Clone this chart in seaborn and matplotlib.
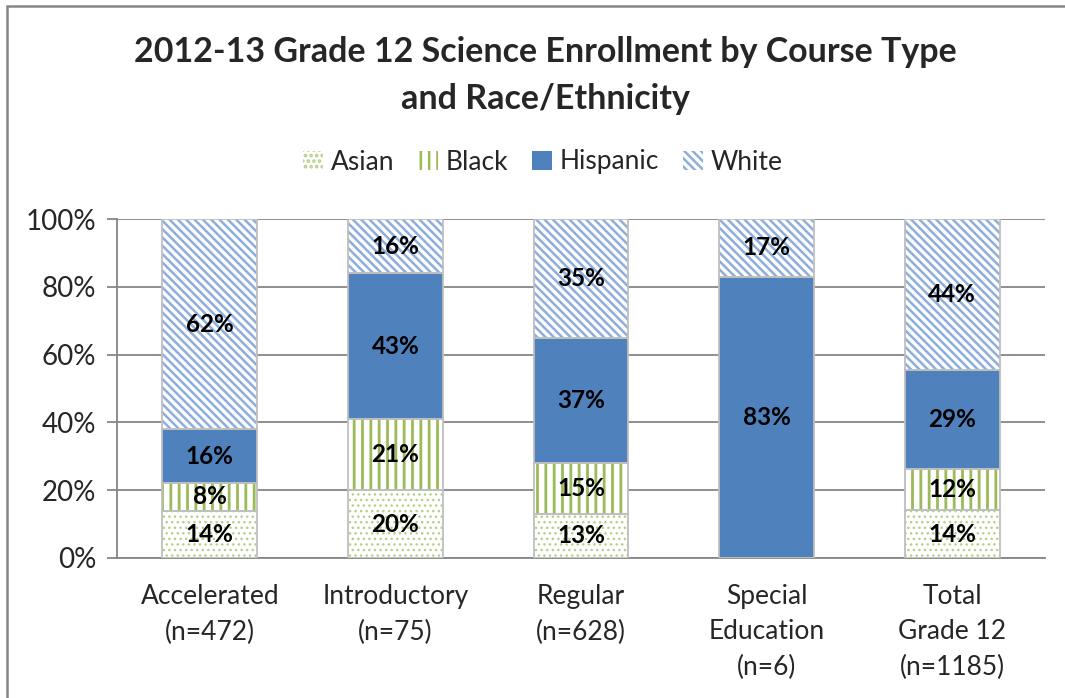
import numpy as np
import pandas as pd
import matplotlib
matplotlib.use("Agg")
import matplotlib.pyplot as plt
from matplotlib.patches import Patch
import seaborn as sns

# data
categories = ["Accelerated\n(n=472)", "Introductory\n(n=75)", "Regular\n(n=628)",
              "Special\nEducation\n(n=6)", "Total\nGrade 12\n(n=1185)"]
groups = ["Asian", "Black", "Hispanic", "White"]
asian = [14, 20, 13, 0, 14]
black = [8, 21, 15, 0, 12]
hispanic = [16, 43, 37, 83, 29]
white = [62, 16, 35, 17, 44]

series = [asian, black, hispanic, white]
totals = np.sum(series, axis=0)

# look of each race/ethnicity layer
face = ["white", "white", "#4F81BD", "white"]
hatch_col = ["#B5CF86", "#9BBB59", "#4F81BD", "#8EAEDB"]
hatches = ["...", "||", None, "\\\\\\\\"]
hatch_lw = [1.0, 2.0, 1.0, 1.8]
edge = "#BFBFBF"

sns.set_style("white")
plt.rcParams["font.family"] = ["Lato", "DejaVu Sans"]

fig = plt.figure(figsize=(10.65, 6.98), dpi=100)
ax = fig.add_axes([117 / 1065, 1 - 558 / 698, 928 / 1065, 339 / 698])

bottom = np.zeros(len(categories))
for i, (name, vals) in enumerate(zip(groups, series)):
    share = np.array(vals) / totals * 100
    df = pd.DataFrame({"cat": categories, "val": share})
    plt.rcParams["hatch.linewidth"] = hatch_lw[i]
    n0 = len(ax.patches)
    sns.barplot(data=df, x="cat", y="val", bottom=bottom, width=0.51,
                color=face[i], saturation=1, ax=ax, zorder=3)
    for p in ax.patches[n0:]:
        p.set_facecolor(face[i])
        p.set_edgecolor(hatch_col[i])
        p.set_linewidth(0)
        if hatches[i]:
            p.set_hatch(hatches[i])
            if hasattr(p, "set_hatch_linewidth"):
                p.set_hatch_linewidth(hatch_lw[i])
    # gray outline on top of the hatch layer
    n1 = len(ax.patches)
    sns.barplot(data=df, x="cat", y="val", bottom=bottom, width=0.51,
                color=edge, saturation=1, fill=False, ax=ax, zorder=4)
    for p in ax.patches[n1:]:
        p.set_fill(False)
        p.set_edgecolor(edge)
        p.set_linewidth(1.3)
    for j, v in enumerate(vals):
        if v > 0:
            ax.text(j, bottom[j] + share[j] / 2, f"{v}%", ha="center", va="center",
                    fontsize=17.5, fontweight="bold", color="black", zorder=5)
    bottom = bottom + share

ax.set_ylim(0, 100)
ax.set_xlim(-0.5, len(categories) - 0.5)
ax.set_yticks(range(0, 101, 20))
ax.set_yticklabels([f"{t}%" for t in range(0, 101, 20)], fontsize=20)
ax.tick_params(axis="x", labelsize=19, length=0, pad=19)
ax.tick_params(axis="y", length=7, width=1.3, color="#868686", left=True, pad=8)
ax.set_xlabel("")
ax.set_ylabel("")
ax.grid(axis="y", color="#868686", linewidth=1.3, zorder=0)
ax.set_axisbelow(True)
for s in ["top", "right"]:
    ax.spines[s].set_visible(False)
for s in ["left", "bottom"]:
    ax.spines[s].set_color("#868686")
    ax.spines[s].set_linewidth(1.3)
for lbl in ax.get_xticklabels():
    lbl.set_linespacing(1.5)

fig.suptitle("2012-13 Grade 12 Science Enrollment by Course Type\nand Race/Ethnicity",
             fontsize=24.5, fontweight="bold", x=0.512, y=0.948, linespacing=1.55)

handles = []
for i, name in enumerate(groups):
    handles.append(Patch(facecolor=face[i], edgecolor=hatch_col[i], hatch=hatches[i],
                         linewidth=0, label=name))
fig.legend(handles=handles, loc="center", bbox_to_anchor=(0.51, 1 - 162 / 698),
           ncol=4, frameon=False, fontsize=19, handlelength=0.75, handleheight=0.75,
           handletextpad=0.3, columnspacing=0.9)

# chart border
fig.patches.append(plt.Rectangle((6.5 / 1065, -0.01), 1.0, 1 - 5.5 / 698 + 0.01,
                                 transform=fig.transFigure, fill=False,
                                 edgecolor="#868686", linewidth=1.8))

fig.savefig("out.png", dpi=100)
